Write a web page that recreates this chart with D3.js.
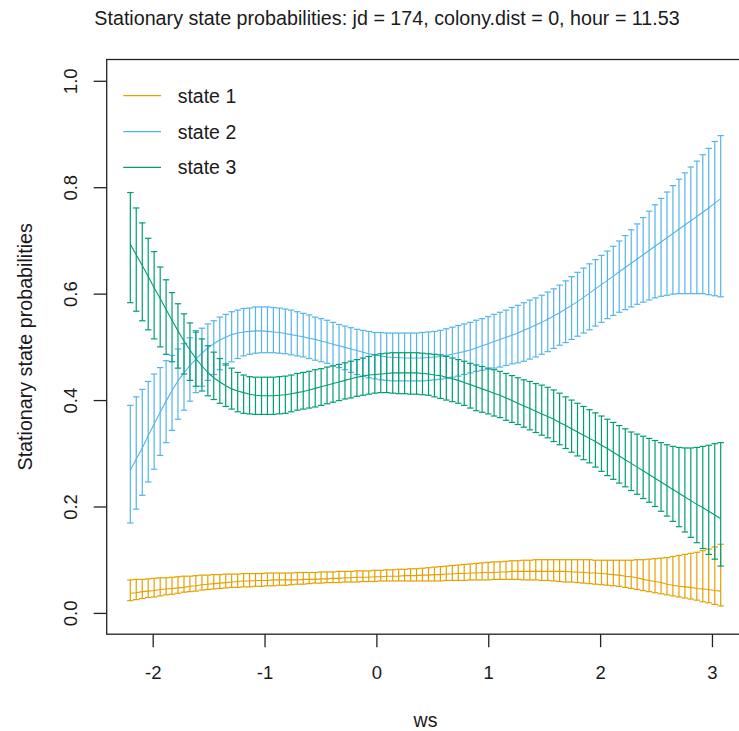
<!DOCTYPE html>
<html><head><meta charset="utf-8">
<script src="https://cdn.jsdelivr.net/npm/d3@7"></script>
<style>
body{margin:0;background:#fff}
svg{display:block}
text{font-family:"Liberation Sans",Arial,sans-serif;fill:#1a1a1a}
</style>
</head><body>
<svg id="c" width="739" height="731"></svg>
<script>
// covariate grid (ws)
const ws = [-2.200,-2.147,-2.093,-2.040,-1.987,-1.933,-1.880,-1.827,-1.774,-1.720,
-1.667,-1.614,-1.560,-1.507,-1.454,-1.400,-1.347,-1.294,-1.240,-1.187,
-1.134,-1.081,-1.027,-0.974,-0.921,-0.867,-0.814,-0.761,-0.707,-0.654,
-0.601,-0.547,-0.494,-0.441,-0.388,-0.334,-0.281,-0.228,-0.174,-0.121,
-0.068,-0.014,0.039,0.092,0.146,0.199,0.252,0.306,0.359,0.412,
0.466,0.519,0.572,0.625,0.679,0.732,0.785,0.839,0.892,0.945,
0.999,1.052,1.105,1.159,1.212,1.265,1.318,1.372,1.425,1.478,
1.532,1.585,1.638,1.692,1.745,1.798,1.852,1.905,1.958,2.012,
2.065,2.118,2.171,2.225,2.278,2.331,2.385,2.438,2.491,2.545,
2.598,2.651,2.705,2.758,2.811,2.865,2.918,2.971,3.025,3.078];

// state 1
const s1Mean = [0.037,0.038,0.040,0.041,0.042,0.044,0.045,0.046,0.047,0.048,
0.050,0.051,0.053,0.054,0.055,0.056,0.057,0.058,0.059,0.060,
0.060,0.061,0.061,0.061,0.062,0.062,0.062,0.062,0.062,0.063,
0.063,0.063,0.064,0.064,0.065,0.065,0.066,0.066,0.067,0.067,
0.067,0.068,0.068,0.069,0.069,0.069,0.070,0.070,0.070,0.071,
0.071,0.072,0.072,0.073,0.073,0.074,0.074,0.075,0.075,0.076,
0.076,0.076,0.077,0.077,0.078,0.078,0.078,0.078,0.078,0.078,
0.078,0.078,0.078,0.078,0.077,0.077,0.076,0.075,0.075,0.074,
0.073,0.072,0.071,0.069,0.068,0.066,0.063,0.061,0.059,0.057,
0.054,0.052,0.050,0.049,0.048,0.046,0.045,0.044,0.042,0.041];
const s1Lower = [0.023,0.025,0.027,0.029,0.030,0.032,0.034,0.035,0.037,0.039,
0.040,0.041,0.043,0.044,0.045,0.046,0.047,0.048,0.048,0.049,
0.049,0.050,0.050,0.051,0.051,0.052,0.052,0.053,0.054,0.054,
0.055,0.056,0.056,0.057,0.057,0.057,0.058,0.058,0.058,0.059,
0.059,0.059,0.060,0.060,0.060,0.060,0.060,0.060,0.060,0.060,
0.060,0.060,0.060,0.061,0.061,0.061,0.061,0.062,0.062,0.062,
0.062,0.063,0.063,0.063,0.063,0.063,0.062,0.062,0.062,0.061,
0.061,0.060,0.059,0.058,0.058,0.057,0.056,0.055,0.054,0.053,
0.052,0.051,0.050,0.048,0.046,0.044,0.042,0.040,0.038,0.036,
0.034,0.032,0.030,0.028,0.026,0.024,0.021,0.019,0.016,0.013];
const s1Upper = [0.062,0.063,0.063,0.064,0.065,0.066,0.066,0.067,0.068,0.069,
0.069,0.070,0.071,0.071,0.072,0.072,0.073,0.073,0.073,0.074,
0.074,0.074,0.074,0.075,0.075,0.075,0.075,0.075,0.076,0.076,
0.076,0.076,0.077,0.077,0.077,0.078,0.078,0.078,0.079,0.079,
0.079,0.080,0.080,0.081,0.081,0.082,0.082,0.083,0.083,0.084,
0.085,0.086,0.087,0.088,0.089,0.090,0.091,0.092,0.093,0.094,
0.095,0.096,0.096,0.097,0.098,0.098,0.099,0.099,0.100,0.100,
0.100,0.100,0.100,0.100,0.100,0.100,0.100,0.100,0.099,0.099,
0.099,0.099,0.099,0.099,0.099,0.100,0.100,0.101,0.102,0.103,
0.104,0.106,0.108,0.110,0.112,0.114,0.117,0.120,0.124,0.129];

// state 2
const s2Mean = [0.268,0.289,0.310,0.333,0.355,0.377,0.398,0.418,0.436,0.451,
0.465,0.477,0.488,0.498,0.506,0.513,0.518,0.523,0.526,0.528,
0.529,0.530,0.530,0.529,0.528,0.527,0.525,0.523,0.521,0.519,
0.516,0.514,0.511,0.508,0.505,0.502,0.499,0.496,0.493,0.490,
0.487,0.485,0.483,0.481,0.480,0.480,0.479,0.479,0.479,0.479,
0.480,0.481,0.482,0.484,0.486,0.489,0.491,0.494,0.498,0.502,
0.506,0.510,0.514,0.518,0.522,0.526,0.531,0.536,0.541,0.546,
0.552,0.558,0.564,0.571,0.578,0.585,0.593,0.601,0.609,0.617,
0.625,0.633,0.641,0.649,0.657,0.665,0.673,0.681,0.689,0.697,
0.705,0.713,0.721,0.729,0.737,0.745,0.753,0.761,0.770,0.778];
const s2Lower = [0.169,0.195,0.221,0.246,0.270,0.296,0.320,0.343,0.364,0.381,
0.398,0.414,0.426,0.437,0.448,0.457,0.465,0.472,0.478,0.483,
0.486,0.488,0.489,0.489,0.489,0.488,0.487,0.485,0.483,0.481,
0.478,0.475,0.472,0.469,0.465,0.461,0.457,0.452,0.448,0.445,
0.442,0.440,0.438,0.437,0.436,0.436,0.436,0.436,0.436,0.436,
0.437,0.438,0.439,0.441,0.443,0.445,0.448,0.451,0.454,0.456,
0.458,0.460,0.462,0.465,0.468,0.470,0.473,0.477,0.481,0.486,
0.491,0.497,0.503,0.508,0.514,0.520,0.526,0.532,0.539,0.546,
0.553,0.559,0.565,0.570,0.575,0.580,0.584,0.588,0.592,0.595,
0.597,0.599,0.600,0.600,0.600,0.600,0.600,0.598,0.596,0.594];
const s2Upper = [0.390,0.406,0.420,0.435,0.449,0.461,0.474,0.484,0.496,0.506,
0.517,0.527,0.535,0.543,0.549,0.556,0.561,0.566,0.569,0.572,
0.573,0.575,0.575,0.575,0.574,0.573,0.571,0.569,0.566,0.563,
0.560,0.556,0.553,0.550,0.546,0.542,0.539,0.536,0.533,0.531,
0.529,0.527,0.527,0.526,0.526,0.526,0.526,0.526,0.526,0.527,
0.528,0.529,0.531,0.534,0.537,0.540,0.543,0.546,0.550,0.553,
0.557,0.561,0.565,0.569,0.574,0.578,0.583,0.588,0.592,0.597,
0.603,0.609,0.616,0.624,0.632,0.640,0.648,0.656,0.664,0.672,
0.680,0.689,0.699,0.709,0.720,0.731,0.743,0.755,0.767,0.779,
0.791,0.803,0.815,0.827,0.838,0.849,0.861,0.873,0.886,0.897];

// state 3
const s3Mean = [0.693,0.673,0.653,0.632,0.611,0.591,0.570,0.550,0.530,0.511,
0.494,0.478,0.464,0.452,0.442,0.434,0.427,0.421,0.417,0.414,
0.411,0.409,0.408,0.408,0.408,0.409,0.410,0.412,0.414,0.416,
0.419,0.422,0.425,0.428,0.431,0.434,0.437,0.440,0.443,0.445,
0.447,0.448,0.449,0.450,0.451,0.451,0.451,0.451,0.451,0.450,
0.449,0.447,0.446,0.443,0.440,0.437,0.433,0.429,0.425,0.421,
0.417,0.413,0.409,0.404,0.399,0.394,0.389,0.384,0.379,0.374,
0.369,0.364,0.358,0.352,0.346,0.340,0.334,0.328,0.322,0.315,
0.309,0.302,0.295,0.288,0.281,0.274,0.267,0.260,0.253,0.246,
0.239,0.232,0.225,0.218,0.211,0.204,0.198,0.191,0.184,0.177];
const s3Lower = [0.583,0.567,0.549,0.532,0.515,0.500,0.486,0.472,0.460,0.449,
0.437,0.426,0.417,0.408,0.401,0.394,0.388,0.383,0.378,0.375,
0.374,0.373,0.373,0.373,0.373,0.374,0.375,0.378,0.381,0.383,
0.385,0.387,0.390,0.393,0.396,0.399,0.402,0.404,0.407,0.409,
0.411,0.413,0.414,0.414,0.413,0.412,0.412,0.411,0.411,0.410,
0.409,0.406,0.403,0.400,0.397,0.394,0.390,0.385,0.380,0.377,
0.374,0.370,0.367,0.362,0.358,0.354,0.349,0.344,0.339,0.334,
0.329,0.322,0.316,0.309,0.302,0.295,0.288,0.282,0.274,0.266,
0.258,0.251,0.244,0.237,0.230,0.223,0.215,0.208,0.200,0.191,
0.182,0.172,0.162,0.152,0.142,0.132,0.121,0.110,0.101,0.088];
const s3Upper = [0.790,0.761,0.733,0.704,0.679,0.650,0.626,0.602,0.581,0.562,
0.545,0.530,0.515,0.502,0.490,0.478,0.468,0.460,0.452,0.447,
0.444,0.443,0.443,0.443,0.443,0.444,0.445,0.447,0.450,0.452,
0.454,0.457,0.459,0.462,0.464,0.467,0.470,0.473,0.476,0.479,
0.482,0.485,0.487,0.488,0.489,0.489,0.489,0.489,0.489,0.488,
0.487,0.486,0.485,0.482,0.479,0.476,0.473,0.469,0.466,0.463,
0.460,0.457,0.454,0.450,0.446,0.442,0.438,0.435,0.431,0.428,
0.424,0.419,0.413,0.406,0.400,0.394,0.388,0.382,0.376,0.370,
0.364,0.358,0.352,0.346,0.340,0.336,0.332,0.328,0.324,0.320,
0.316,0.313,0.311,0.310,0.310,0.311,0.313,0.315,0.318,0.320];

const stateNames = ["state 1","state 2","state 3"];
const stateColors = ["#E69F00","#56B4E9","#009E73"];
const xTicks = [-2,-1,0,1,2,3];
const yTicks = [0.0,0.2,0.4,0.6,0.8,1.0];
const titleText = "Stationary state probabilities: jd = 174, colony.dist = 0, hour = 11.53";
const xLabel = "ws";
const yLabel = "Stationary state probabilities";

const series = [
  {mean:s1Mean, lower:s1Lower, upper:s1Upper},
  {mean:s2Mean, lower:s2Lower, upper:s2Upper},
  {mean:s3Mean, lower:s3Lower, upper:s3Upper}
];

const svg = d3.select("#c");
const box = {l:106.7, r:744.3, t:59.5, b:634.2};
const xr = d3.extent(ws), xpad = 0.04*(xr[1]-xr[0]);
const x = d3.scaleLinear().domain([xr[0]-xpad, xr[1]+xpad]).range([box.l, box.r]);
const y = d3.scaleLinear().domain([-0.04,1.04]).range([box.b, box.t]);

const plot = svg.append("g");
const cap = 3.2;
series.forEach((s,k)=>{
  const g = plot.append("g").attr("stroke", stateColors[k]).attr("fill","none");
  ws.forEach((w,i)=>{
    const px = x(w), yl = y(s.lower[i]), yu = y(s.upper[i]);
    g.append("line").attr("x1",px).attr("x2",px).attr("y1",yl).attr("y2",yu).attr("stroke-width",1.2);
    g.append("line").attr("x1",px-cap).attr("x2",px+cap).attr("y1",yl).attr("y2",yl).attr("stroke-width",1.2);
    g.append("line").attr("x1",px-cap).attr("x2",px+cap).attr("y1",yu).attr("y2",yu).attr("stroke-width",1.2);
  });
  g.append("path").datum(s.mean.map((m,i)=>[ws[i],m]))
    .attr("d", d3.line().x(d=>x(d[0])).y(d=>y(d[1])))
    .attr("stroke-width",1.1);
});

// box
svg.append("rect").attr("x",box.l).attr("y",box.t).attr("width",box.r-box.l).attr("height",box.b-box.t)
  .attr("fill","none").attr("stroke","#222").attr("stroke-width",1.3);

// axes
const xa = svg.append("g").attr("transform",`translate(0,${box.b})`)
  .call(d3.axisBottom(x).tickValues(xTicks).tickSize(13).tickFormat(d=>String(d)));
xa.select(".domain").remove();
xa.selectAll(".tick line").attr("stroke","#222").attr("stroke-width",1.3);
xa.selectAll(".tick text").attr("y",38.5).attr("dy","0.35em").attr("font-size","18.5px")
  .attr("font-family","Liberation Sans, Arial, sans-serif").attr("fill","#1a1a1a");

const ya = svg.append("g").attr("transform",`translate(${box.l},0)`)
  .call(d3.axisLeft(y).tickValues(yTicks).tickSize(13).tickFormat(d3.format(".1f")));
ya.select(".domain").remove();
ya.selectAll(".tick line").attr("stroke","#222").attr("stroke-width",1.3);
ya.selectAll(".tick text").attr("x",null).attr("dy","0.35em")
  .attr("transform","translate(-36,0) rotate(-90)").attr("text-anchor","middle")
  .attr("font-size","18.5px").attr("font-family","Liberation Sans, Arial, sans-serif").attr("fill","#1a1a1a");

// titles
svg.append("text").attr("x",387).attr("y",18).attr("dy","0.35em").attr("text-anchor","middle")
  .attr("font-size","19.7px").text(titleText);
svg.append("text").attr("x",(box.l+box.r)/2).attr("y",727).attr("text-anchor","middle")
  .attr("font-size","19.5px").text(xLabel);
svg.append("text").attr("transform",`translate(25,${(box.t+box.b)/2}) rotate(-90)`).attr("dy","0.35em")
  .attr("text-anchor","middle").attr("font-size","19.7px").text(yLabel);

// legend
const lg = svg.append("g");
const legY = [95.7,131.7,167.3];
stateNames.forEach((n,k)=>{
  lg.append("line").attr("x1",123.3).attr("x2",161).attr("y1",legY[k]).attr("y2",legY[k])
    .attr("stroke",stateColors[k]).attr("stroke-width",1.2);
  lg.append("text").attr("x",177.7).attr("y",legY[k]).attr("dy","0.35em").attr("font-size","19.5px").text(n);
});
</script>
</body></html>
